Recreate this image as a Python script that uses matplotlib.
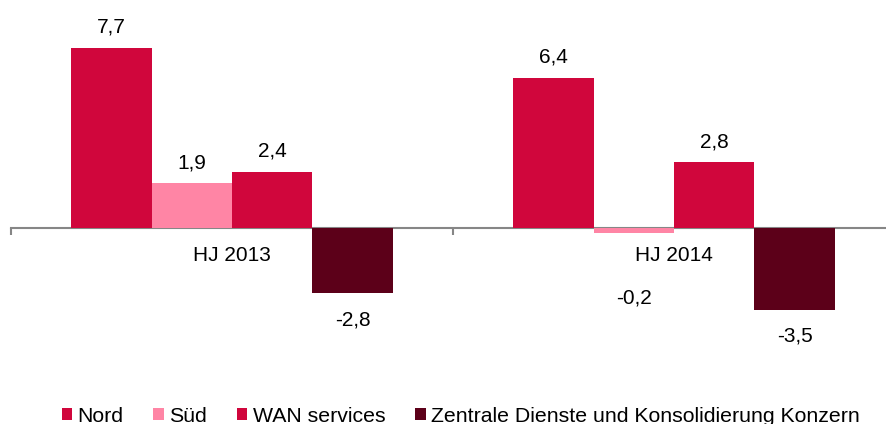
import matplotlib.pyplot as plt
import numpy as np
from matplotlib.ticker import FixedLocator

plt.rcParams['font.family'] = ['Liberation Sans', 'DejaVu Sans']

# Chart data
categories = ['HJ 2013', 'HJ 2014']
series = ['Nord', 'Süd', 'WAN services', 'Zentrale Dienste und Konsolidierung Konzern']
values = {
    'Nord': [7.7, 6.4],
    'Süd': [1.9, -0.2],
    'WAN services': [2.4, 2.8],
    'Zentrale Dienste und Konsolidierung Konzern': [-2.8, -3.5],
}
label_texts = {
    'Nord': ['7,7', '6,4'],
    'Süd': ['1,9', '-0,2'],
    'WAN services': ['2,4', '2,8'],
    'Zentrale Dienste und Konsolidierung Konzern': ['-2,8', '-3,5'],
}
colors = ['#D0063C', '#FF85A5', '#D0063C', '#5C0019']

fig = plt.figure(figsize=(8.86, 4.24), dpi=100)
# axes spans a bit past the right edge, like the original export
ax = fig.add_axes([11 / 886, 54 / 424, 884 / 886, 370 / 424])

x = np.arange(len(categories))
bar_w = 0.182
offsets = (np.arange(len(series)) - 1.5) * bar_w

for i, name in enumerate(series):
    vals = values[name]
    ax.bar(x + offsets[i], vals, width=bar_w, color=colors[i], label=name, zorder=3)
    for j, v in enumerate(vals):
        if name == 'Süd' and v < 0:
            # label was moved down below the category label in the original
            ax.annotate(label_texts[name][j], (x[j] + offsets[i], -3.0),
                        ha='center', va='center', fontsize=15)
        elif v >= 0:
            ax.annotate(label_texts[name][j], (x[j] + offsets[i], v),
                        xytext=(0, 15), textcoords='offset points',
                        ha='center', va='center', fontsize=15)
        else:
            ax.annotate(label_texts[name][j], (x[j] + offsets[i], v),
                        xytext=(0, -19), textcoords='offset points',
                        ha='center', va='center', fontsize=15)

ax.set_xlim(-0.5, len(categories) - 0.5)
ax.set_ylim(-6.07, 9.74)

for s in ['top', 'right', 'left']:
    ax.spines[s].set_visible(False)
ax.spines['bottom'].set_position(('data', 0))
ax.spines['bottom'].set_color('#868686')
ax.spines['bottom'].set_linewidth(1.5)
ax.spines['bottom'].set_zorder(2)

ax.set_yticks([])
ax.set_xticks(x)
ax.set_xticklabels(categories, fontsize=15)
ax.tick_params(axis='x', which='major', length=0, pad=13)
ax.xaxis.set_minor_locator(FixedLocator([-0.5, 0.5, 1.5]))
ax.tick_params(axis='x', which='minor', length=5, width=1.5, color='#868686', direction='out')

ax.legend(loc='lower left', bbox_to_anchor=(42 / 884, -64 / 370), ncol=4, frameon=False,
          fontsize=15.3, handlelength=0.5, handleheight=0.55, handletextpad=0.25,
          columnspacing=1.4, borderaxespad=0)

plt.savefig('out.png', dpi=100)
